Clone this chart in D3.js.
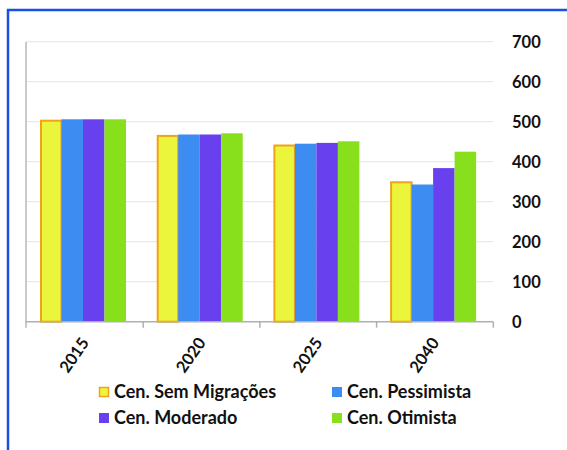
<!DOCTYPE html>
<html><head><meta charset="utf-8">
<script src="https://cdn.jsdelivr.net/npm/d3@7"></script>
<style>
html,body{margin:0;padding:0;background:#fff;}
svg{display:block;}
text{font-family:Lato,"Open Sans",sans-serif;font-weight:bold;fill:#111;}
</style></head>
<body><svg id="c" width="567" height="450"></svg>
<script>
const categories = ["2015","2020","2025","2040"];
const seriesNames = ["Cen. Sem Migrações","Cen. Pessimista","Cen. Moderado","Cen. Otimista"];
const semMigracoes = [505, 467, 443, 351];
const pessimista   = [506, 468, 445, 343];
const moderado     = [506, 468, 447, 384];
const otimista     = [506, 471, 451, 425];
const yTicks = [0,100,200,300,400,500,600,700];

const seriesValues = [semMigracoes, pessimista, moderado, otimista];
const colors = ["#EAF53C","#3D8CF2","#6840EE","#88E01C"];

const svg = d3.select("#c");
// frame
svg.append("path").attr("d","M8,450 V10 H567").attr("fill","none").attr("stroke","#1A4FE6").attr("stroke-width",2.5);

const pLeft = 26.5, pRight = 493.3, pTop = 41.7, pBottom = 321.7;
const y = d3.scaleLinear().domain([0,700]).range([pBottom, pTop]);
const x0 = d3.scaleBand().domain(categories).range([pLeft, pRight]).padding(0);
const x1 = d3.scaleBand().domain(seriesNames).range([13.5, 99.5]).padding(0);

// gridlines
svg.append("g").selectAll("line").data(yTicks.filter(d=>d>0)).join("line")
  .attr("x1",pLeft).attr("x2",pRight).attr("y1",d=>y(d)).attr("y2",d=>y(d))
  .attr("stroke","#e4e4e4").attr("stroke-width",1);

// left axis line
svg.append("line").attr("x1",pLeft-0.5).attr("x2",pLeft-0.5).attr("y1",pTop).attr("y2",pBottom+6)
  .attr("stroke","#b8b8b8").attr("stroke-width",1.5);

// bars
const groups = svg.append("g").selectAll("g").data(categories).join("g")
  .attr("transform",d=>`translate(${x0(d)},0)`);
groups.selectAll("rect").data((c,i)=>seriesNames.map((s,j)=>({s,j,v:seriesValues[j][i]}))).join("rect")
  .attr("x",d=>x1(d.s) + (d.j===0?1:0))
  .attr("width",d=>x1.bandwidth() - (d.j===0?1:0))
  .attr("y",d=>y(d.v) + (d.j===0?1:0))
  .attr("height",d=>pBottom - y(d.v) - (d.j===0?1:0))
  .attr("fill",d=>colors[d.j])
  .attr("stroke",d=>d.j===0?"#EFA21A":"none")
  .attr("stroke-width",2);

// x axis baseline + ticks
svg.append("line").attr("x1",pLeft-1).attr("x2",pRight).attr("y1",pBottom).attr("y2",pBottom)
  .attr("stroke","#b0b0b0").attr("stroke-width",1.5);
svg.append("g").selectAll("line").data(categories).join("line")
  .attr("x1",d=>x0(d)+x0.bandwidth()).attr("x2",d=>x0(d)+x0.bandwidth())
  .attr("y1",pBottom).attr("y2",pBottom+6).attr("stroke","#b0b0b0").attr("stroke-width",1.5);

// x labels
svg.append("g").selectAll("text").data(categories).join("text")
  .attr("transform",d=>`translate(${x0(d)+x0.bandwidth()/2+5},${pBottom+21}) rotate(-55)`)
  .attr("text-anchor","end").attr("font-size",16.5).text(d=>d);

// y labels (right)
svg.append("g").selectAll("text").data(yTicks).join("text")
  .attr("x",512).attr("y",d=>y(d)).attr("dy","0.36em")
  .attr("font-size",16.5).text(d=>d);

// legend
const legPos = [[99,392],[332,392],[99,418],[332,418]];
const leg = svg.append("g").selectAll("g").data(seriesNames).join("g")
  .attr("transform",(d,i)=>`translate(${legPos[i][0]},${legPos[i][1]})`);
leg.append("rect").attr("x",(d,i)=>i===0?0.5:0).attr("y",(d,i)=>i===0?-4.5:-5)
  .attr("width",(d,i)=>i===0?9:10).attr("height",(d,i)=>i===0?9:10)
  .attr("fill",(d,i)=>colors[i]).attr("stroke",(d,i)=>i===0?"#EFA21A":"none").attr("stroke-width",1.5);
leg.append("text").attr("x",15).attr("dy","0.36em").attr("font-size",18).text(d=>d);
</script></body></html>
